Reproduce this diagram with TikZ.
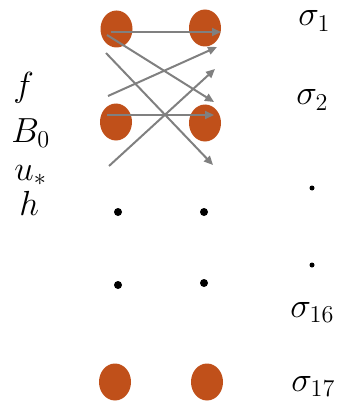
\documentclass[tikz,border=0pt]{standalone}
\usetikzlibrary{shapes.geometric,arrows.meta}
\definecolor{dotorange}{RGB}{192,80,26}
\definecolor{arrgray}{RGB}{128,128,128}
\begin{document}
\begin{tikzpicture}[x=1pt,y=-1pt,
  blob/.style={ellipse,fill=dotorange,draw=none,minimum width=32pt,minimum height=37pt,inner sep=0pt},
  smalldot/.style={circle,fill=black,draw=none,minimum size=8pt,inner sep=0pt},
  perioddot/.style={circle,fill=black,draw=none,minimum size=5pt,inner sep=0pt},
  lab/.style={inner sep=0pt,font=\huge,scale=1.68},
  arr/.style={draw=arrgray,line width=2pt,-{Triangle[length=9pt,width=8pt]}}]
\useasboundingbox (0,0) rectangle (339,401);
% nodes
\node[blob] (a1) at (116.5,29) {};
\node[blob] (b1) at (205,28) {};
\node[blob] (a2) at (116,122) {};
\node[blob] (b2) at (205,123) {};
\node[smalldot] (a3) at (118,212) {};
\node[smalldot] (b3) at (204,212) {};
\node[smalldot] (a4) at (118,285) {};
\node[smalldot] (b4) at (204,283) {};
\node[blob] (a5) at (115,382) {};
\node[blob] (b5) at (207,382) {};
% arrow end points
\coordinate (s1) at (111,32);  \coordinate (e1) at (221,32);
\coordinate (s2) at (107,35);  \coordinate (e2) at (214,102);
\coordinate (s3) at (106,53);  \coordinate (e3) at (213,165);
\coordinate (s4) at (108,96);  \coordinate (e4) at (217,47);
\coordinate (s5) at (107,115); \coordinate (e5) at (214,115);
\coordinate (s6) at (109,166); \coordinate (e6) at (215,69);
\draw[arr] (s1) -- (e1);
\draw[arr] (s2) -- (e2);
\draw[arr] (s3) -- (e3);
\draw[arr] (s4) -- (e4);
\draw[arr] (s5) -- (e5);
\draw[arr] (s6) -- (e6);
% left labels
\node[lab,anchor=base west] (lf) at (13,96) {$f$};
\node[lab,anchor=base west] (lB) at (11,142) {$B_0$};
\node[lab,anchor=base west] (lu) at (14,180) {$u_*$};
\node[lab,anchor=base west] (lh) at (19,215) {$h$};
% right labels
\node[lab,anchor=base west] (r1) at (298,26) {$\sigma_1$};
\node[lab,anchor=base west] (r2) at (296,105) {$\sigma_2$};
\node[perioddot] (rd1) at (312,188) {};
\node[perioddot] (rd2) at (312,265) {};
\node[lab,anchor=base west] (r16) at (290,317) {$\sigma_{16}$};
\node[lab,anchor=base west] (r17) at (291,391) {$\sigma_{17}$};
\end{tikzpicture}
\end{document}
